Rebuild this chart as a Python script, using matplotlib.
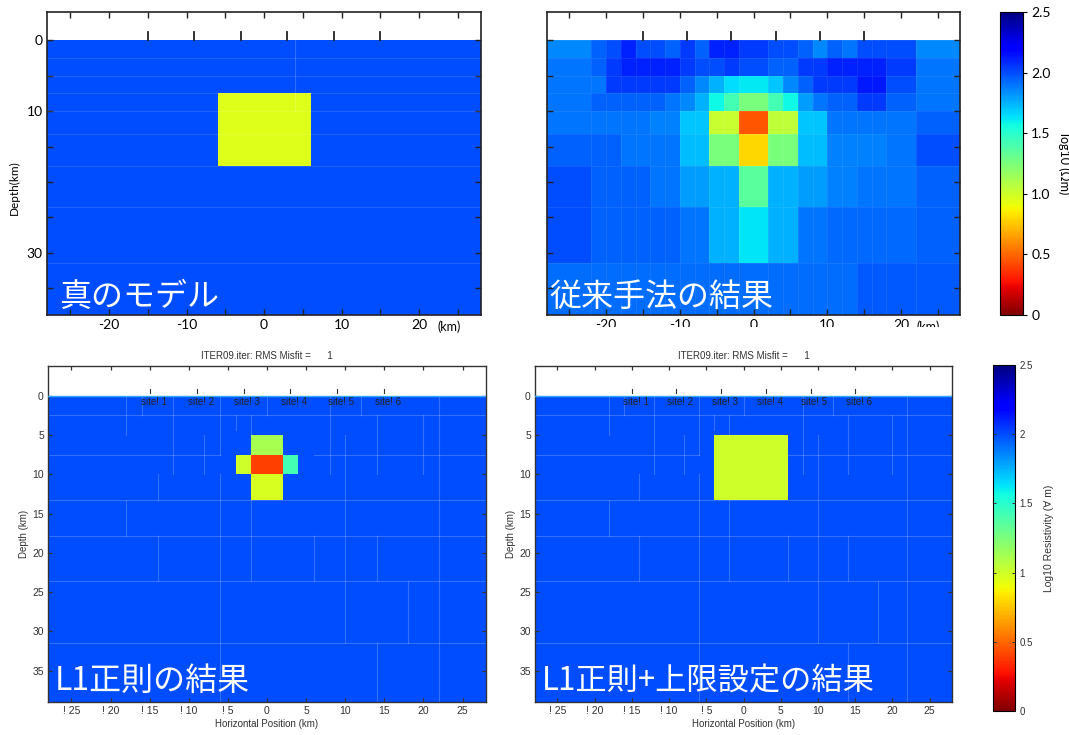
import numpy as np
import matplotlib
matplotlib.use("Agg")
import matplotlib.pyplot as plt
from matplotlib.colors import Normalize
from matplotlib.cm import ScalarMappable
from matplotlib.patches import Rectangle

# ---------------- data ----------------
depth_edges = [0, 2.5, 5, 7.5, 10, 13.3, 17.8, 23.6, 31.5, 39]

# true model
x_edges_true = [-28, -6, 6, 28]
rho_true = [
    [2.0, 2.0, 2.0],
    [2.0, 2.0, 2.0],
    [2.0, 2.0, 2.0],
    [2.0, 0.95, 2.0],
    [2.0, 0.95, 2.0],
    [2.0, 0.95, 2.0],
    [2.0, 2.0, 2.0],
    [2.0, 2.0, 2.0],
    [2.0, 2.0, 2.0],
]

# conventional (smooth) inversion
x_edges_conv = [-28, -22, -20, -18, -16, -14, -12, -10, -8, -6, -4, -2,
                2, 4, 6, 8, 10, 12, 14, 16, 18, 22, 28]
rho_conv = [
    [1.85, 1.95, 2.0, 2.1, 2.0, 2.0, 1.95, 2.05, 1.95, 2.1, 2.1, 2.05, 2.0, 2.0, 1.95, 1.85, 1.95, 1.9, 2.0, 2.0, 2.0, 1.85],
    [1.9, 1.95, 2.05, 2.1, 2.1, 2.1, 2.1, 2.05, 2.0, 2.0, 2.05, 2.0, 1.95, 1.95, 2.05, 2.05, 2.1, 2.1, 2.1, 2.1, 2.05, 1.9],
    [1.9, 1.9, 2.05, 2.05, 2.05, 2.05, 2.05, 1.95, 1.85, 1.75, 1.65, 1.62, 1.7, 1.85, 1.95, 2.05, 2.05, 2.05, 2.12, 2.12, 2.0, 1.9],
    [1.9, 1.95, 1.95, 1.95, 1.95, 1.95, 1.9, 1.85, 1.75, 1.58, 1.42, 1.25, 1.42, 1.58, 1.8, 1.9, 1.95, 1.95, 2.05, 2.05, 1.95, 1.9],
    [1.9, 1.9, 1.9, 1.9, 1.9, 1.87, 1.87, 1.7, 1.7, 1.02, 1.02, 0.45, 1.05, 1.05, 1.7, 1.7, 1.9, 1.9, 1.9, 1.9, 1.9, 1.95],
    [1.95, 1.95, 1.95, 1.9, 1.9, 1.9, 1.9, 1.72, 1.72, 1.25, 1.25, 0.8, 1.25, 1.25, 1.72, 1.72, 1.87, 1.87, 1.87, 1.87, 1.9, 2.0],
    [2.0, 1.95, 1.95, 1.95, 1.95, 1.9, 1.9, 1.8, 1.8, 1.75, 1.75, 1.35, 1.75, 1.75, 1.8, 1.8, 1.87, 1.87, 1.9, 1.9, 1.9, 1.95],
    [2.0, 1.95, 1.95, 1.95, 1.95, 1.95, 1.95, 1.9, 1.9, 1.75, 1.75, 1.63, 1.75, 1.75, 1.9, 1.9, 1.93, 1.93, 1.93, 1.93, 1.93, 1.95],
    [1.92, 1.92, 1.92, 1.92, 1.92, 1.92, 1.92, 1.92, 1.92, 1.92, 1.92, 1.92, 1.92, 1.92, 1.92, 1.92, 1.92, 1.92, 1.97, 1.97, 1.97, 1.97],
]

# L1 regularisation result
x_edges_l1 = [-28, -4, -2, 2, 4, 28]
rho_l1 = [
    [2.0, 2.0, 2.0, 2.0, 2.0],
    [2.0, 2.0, 2.0, 2.0, 2.0],
    [2.0, 2.0, 1.12, 2.0, 2.0],
    [2.0, 1.0, 0.4, 1.42, 2.0],
    [2.0, 2.0, 0.97, 2.0, 2.0],
    [2.0, 2.0, 2.0, 2.0, 2.0],
    [2.0, 2.0, 2.0, 2.0, 2.0],
    [2.0, 2.0, 2.0, 2.0, 2.0],
    [2.0, 2.0, 2.0, 2.0, 2.0],
]

# L1 + upper bound result
x_edges_l1ub = [-28, -4, 6, 28]
rho_l1ub = [
    [2.0, 2.0, 2.0],
    [2.0, 2.0, 2.0],
    [2.0, 1.0, 2.0],
    [2.0, 1.0, 2.0],
    [2.0, 1.0, 2.0],
    [2.0, 2.0, 2.0],
    [2.0, 2.0, 2.0],
    [2.0, 2.0, 2.0],
    [2.0, 2.0, 2.0],
]

site_x = [-15, -9, -3, 3, 9, 15]
site_names = ["site! 1", "site! 2", "site! 3", "site! 4", "site! 5", "site! 6"]

panel_titles = ["真のモデル", "従来手法の結果", "L1正則の結果", "L1正則+上限設定の結果"]
iter_title = "ITER09.iter: RMS Misfit =      1"

x_ticks = [-25, -20, -15, -10, -5, 0, 5, 10, 15, 20, 25]
top_x_labels = ["", "-20", "", "-10", "", "0", "", "10", "", "20", ""]
bottom_x_labels = ["! 25", "! 20", "! 15", "! 10", "! 5", "0", "5", "10", "15", "20", "25"]
y_ticks = [0, 5, 10, 15, 20, 25, 30, 35]
top_y_labels = ["0", "", "10", "", "", "", "30", ""]
bottom_y_labels = ["0", "5", "10", "15", "20", "25", "30", "35"]

cbar_ticks = [0, 0.5, 1.0, 1.5, 2.0, 2.5]
cbar_top_labels = ["0", "0.5", "1.0", "1.5", "2.0", "2.5"]
cbar_bot_labels = ["0", "0.5", "1", "1.5", "2", "2.5"]

# inversion mesh lines (bottom panels)
mesh_h = [(2.5, -28, 28), (7.5, -28, -6), (7.5, 6, 28), (13.3, -28, 28),
          (17.8, -28, 28), (23.6, -28, 28), (31.5, -28, 28)]
mesh_v = [(-18, 0, 5), (-18, 13.3, 17.8), (-16, 0, 2.5), (-14, 10, 13.3),
          (-14, 17.8, 23.6), (-12, 0, 10), (-8, 5, 10), (-6, 0, 7.5), (-6, 10, 39),
          (-4, 2.5, 4.4), (-2, 2.5, 5), (-2, 13.3, 23.6), (0, 0, 2.5),
          (6, 17.8, 23.6), (8, 0, 10), (10, 5, 31.5), (12, 0, 2.5), (14, 2.5, 10),
          (14, 17.8, 23.6), (14, 31.5, 39), (18, 23.6, 31.5), (20, 2.5, 10), (22, 0, 39)]

# ---------------- plotting ----------------
W, H = 1069, 735
fig = plt.figure(figsize=(W / 100, H / 100), dpi=100)
cmap = plt.get_cmap("jet_r")
norm = Normalize(vmin=0, vmax=2.5)

JP = ["Noto Sans CJK JP", "DejaVu Sans"]
TOPF = ["Lato", "DejaVu Sans"]
BOTF = ["Liberation Sans", "DejaVu Sans"]


def fax(x0, y0, x1, y1):
    return fig.add_axes([x0 / W, 1 - y1 / H, (x1 - x0) / W, (y1 - y0) / H])


def draw_model(ax, xe, rho, edges=False):
    kw = dict(cmap=cmap, norm=norm, shading="flat")
    if edges:
        kw.update(edgecolors=(1, 1, 1, 0.08), linewidth=0.6)
    else:
        kw.update(edgecolors="face", linewidth=0)
    ax.pcolormesh(xe, depth_edges, np.array(rho), **kw)


def style_top(ax, show_ylabels):
    ax.set_xlim(-28, 28)
    ax.set_ylim(38.8, -4)
    ax.set_facecolor("white")
    ax.set_xticks(x_ticks)
    ax.set_xticklabels(top_x_labels, fontsize=10, family=TOPF)
    ax.set_yticks(y_ticks)
    if show_ylabels:
        ax.set_yticklabels(top_y_labels, fontsize=10, family=TOPF)
    else:
        ax.set_yticklabels([])
    ax.tick_params(direction="in", length=4, width=1, top=True, right=True,
                   color="#222222", pad=3)
    for s in ax.spines.values():
        s.set_linewidth(1.2)
        s.set_color("#222222")
    for sx in site_x:
        ax.plot([sx, sx], [-1.2, 0], color="#222222", lw=1.3, zorder=5)


def style_bottom(ax):
    ax.set_xlim(-28, 28)
    ax.set_ylim(39, -3.8)
    ax.set_facecolor("white")
    ax.set_xticks(x_ticks)
    ax.set_xticklabels(bottom_x_labels, fontsize=7.5, family=BOTF, color="#333333")
    ax.set_yticks(y_ticks)
    ax.set_yticklabels(bottom_y_labels, fontsize=7.5, family=BOTF, color="#333333")
    ax.tick_params(direction="in", length=3, width=0.9, top=True, right=True,
                   color="#333333", pad=3)
    for s in ax.spines.values():
        s.set_linewidth(1.0)
        s.set_color("#333333")
    ax.set_title(iter_title, fontsize=7, family=BOTF, color="#333333", pad=5)
    ax.set_xlabel("Horizontal Position (km)", fontsize=7, family=BOTF,
                  color="#333333", labelpad=2)
    ax.set_ylabel("Depth (km)", fontsize=7, family=BOTF, color="#333333", labelpad=2)
    ax.axhline(0, color="#33aaff", lw=1.0, zorder=3)
    for (y, x0, x1) in mesh_h:
        ax.plot([x0, x1], [y, y], color=(1, 1, 1, 0.2), lw=0.8, zorder=2)
    for (x, y0, y1) in mesh_v:
        ax.plot([x, x], [y0, y1], color=(1, 1, 1, 0.2), lw=0.8, zorder=2)
    for sx, nm in zip(site_x, site_names):
        ax.plot([sx, sx], [-0.85, -0.3], color="#333333", lw=0.8, zorder=5)
        ax.text(sx + 0.5, 0.8, nm, ha="center", va="center", fontsize=7,
                family=BOTF, color="#222222", zorder=6)


def jp_label(ax, text, x, y, size=23):
    ax.text(x, y, text, transform=ax.transAxes, ha="left", va="baseline",
            fontsize=size, color="white", family=JP, zorder=10)


# --- top-left: true model
ax1 = fax(47, 12, 481, 315)
draw_model(ax1, x_edges_true, rho_true)
for y in depth_edges[1:-1]:
    ax1.axhline(y, color=(1, 1, 1, 0.12), lw=0.8, zorder=2)
ax1.plot([4, 4], [0, 10], color=(1, 1, 1, 0.18), lw=0.8, zorder=2)
style_top(ax1, True)
ax1.set_ylabel("Depth(km)", fontsize=8.5, family=TOPF, labelpad=6)
ax1.yaxis.set_label_coords(-0.062, 0.42)
ax1.text(0.9, -0.04, "(km)", transform=ax1.transAxes, fontsize=9, family=TOPF,
         va="center", ha="left")
jp_label(ax1, panel_titles[0], 0.028, 0.03)

# --- top-right: conventional inversion
ax2 = fax(547, 12, 960, 315)
draw_model(ax2, x_edges_conv, rho_conv, edges=True)
style_top(ax2, False)
ax2.text(0.895, -0.04, "(km)", transform=ax2.transAxes, fontsize=9, family=TOPF,
         va="center", ha="left")
jp_label(ax2, panel_titles[1], 0.006, 0.03)

cax1 = fax(1000, 12, 1023, 315)
cb1 = fig.colorbar(ScalarMappable(norm=norm, cmap=cmap), cax=cax1)
cb1.set_ticks(cbar_ticks)
cb1.set_ticklabels(cbar_top_labels)
cb1.ax.tick_params(labelsize=10, length=3, width=0.8, direction="out", pad=3)
for t in cb1.ax.get_yticklabels():
    t.set_family(TOPF)
cb1.outline.set_linewidth(0.8)
cb1.set_label("log10 (Ωm)", rotation=270, fontsize=9, family=TOPF, labelpad=14)

# white strip reproducing the cropped bottom edge of the top-right image
fig.patches.append(Rectangle((540 / W, 1 - 338 / H), 460 / W, 11 / H,
                             transform=fig.transFigure, facecolor="white",
                             edgecolor="none", zorder=20))

# --- bottom-left: L1
ax3 = fax(48, 366, 486, 702)
draw_model(ax3, x_edges_l1, rho_l1)
style_bottom(ax3)
jp_label(ax3, panel_titles[2], 0.016, 0.035)

# --- bottom-right: L1 + upper bound
ax4 = fax(535, 366, 952, 702)
draw_model(ax4, x_edges_l1ub, rho_l1ub)
style_bottom(ax4)
jp_label(ax4, panel_titles[3], 0.016, 0.035, size=22.5)

cax2 = fax(993, 365, 1015, 711)
cb2 = fig.colorbar(ScalarMappable(norm=norm, cmap=cmap), cax=cax2)
cb2.set_ticks(cbar_ticks)
cb2.set_ticklabels(cbar_bot_labels)
cb2.ax.tick_params(labelsize=7, length=2.5, width=0.7, direction="in",
                   left=True, right=True, colors="#333333", pad=3)
for t in cb2.ax.get_yticklabels():
    t.set_family(BOTF)
cb2.outline.set_linewidth(0.8)
cb2.set_label("Log10 Resistivity (∀ m)", rotation=90, fontsize=7.5, family=BOTF,
              color="#333333", labelpad=8)

fig.savefig("out.png", dpi=100)
